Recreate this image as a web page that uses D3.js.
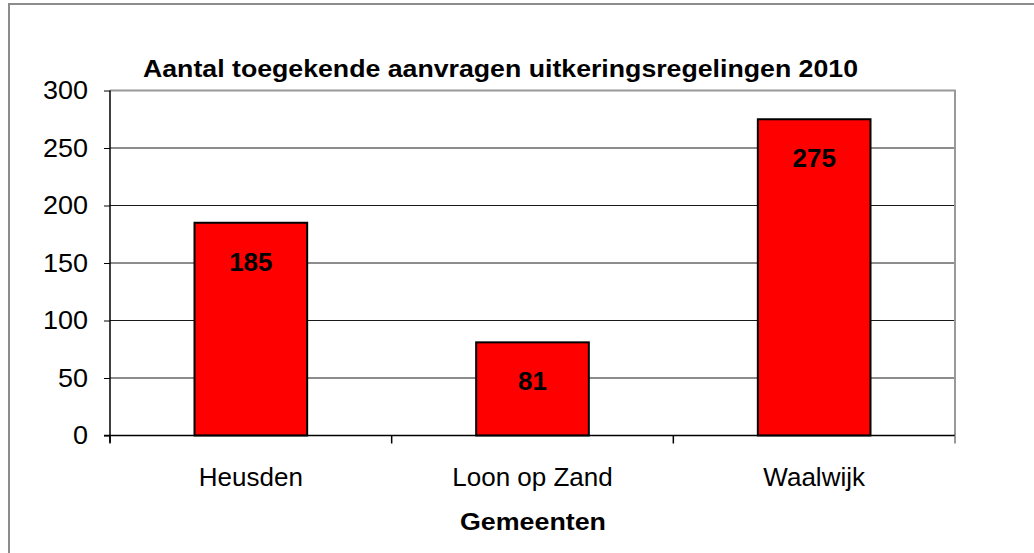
<!DOCTYPE html>
<html>
<head>
<meta charset="utf-8">
<script src="https://cdn.jsdelivr.net/npm/d3@7"></script>
<style>
  html, body { margin: 0; padding: 0; background: #fff; }
  svg { display: block; }
  text { font-family: Arial, "Liberation Sans", sans-serif; fill: #000; }
</style>
</head>
<body>
<svg id="chart" width="1034" height="553"></svg>
<script>
const categories = ["Heusden", "Loon op Zand", "Waalwijk"];
const values = [185, 81, 275];
const yTicks = [0, 50, 100, 150, 200, 250, 300];
const title = "Aantal toegekende aanvragen uitkeringsregelingen 2010";
const xTitle = "Gemeenten";

const svg = d3.select("#chart");
const W = 1034, H = 553;
const plot = { left: 110, right: 955, top: 90.5, bottom: 435.5 };

// outer border (extends past image on right/bottom)
svg.append("rect")
  .attr("x", 9).attr("y", 4)
  .attr("width", W + 20).attr("height", H + 20)
  .attr("fill", "#fff").attr("stroke", "#8c8c8c").attr("stroke-width", 2);

const x = d3.scaleBand().domain(categories).range([plot.left, plot.right]).paddingInner(0).paddingOuter(0);
const y = d3.scaleLinear().domain([0, 300]).range([plot.bottom, plot.top]);

// gridlines
svg.append("g").selectAll("line").data(yTicks.filter(d => d > 0 && d < 300)).join("line")
  .attr("x1", plot.left).attr("x2", plot.right)
  .attr("y1", d => y(d)).attr("y2", d => y(d))
  .attr("stroke", "#1a1a1a").attr("stroke-width", 1);

// plot border top & right (gray)
svg.append("path")
  .attr("d", `M${plot.left},${y(300)}H${plot.right}V${plot.bottom}`)
  .attr("fill", "none").attr("stroke", "#999").attr("stroke-width", 2);

// bars
const bw = x.bandwidth() * 0.4;
svg.append("g").selectAll("rect").data(values).join("rect")
  .attr("x", (d, i) => x(categories[i]) + (x.bandwidth() - bw) / 2)
  .attr("y", d => y(d))
  .attr("width", bw)
  .attr("height", d => y(0) - y(d))
  .attr("fill", "#ff0000").attr("stroke", "#000").attr("stroke-width", 2);

// value labels
svg.append("g").selectAll("text").data(values).join("text")
  .attr("x", (d, i) => x(categories[i]) + x.bandwidth() / 2)
  .attr("y", d => y(d) + 48)
  .attr("text-anchor", "middle")
  .style("font-size", "26px").style("font-weight", "bold")
  .text(d => d);

// y axis
const yAxis = d3.axisLeft(y).tickValues(yTicks).tickSize(6).tickPadding(16);
const gy = svg.append("g").attr("transform", `translate(${plot.left},0)`).call(yAxis);
gy.select(".domain").remove();
gy.selectAll(".tick line").attr("stroke", "#000");
gy.selectAll(".tick text")
  .style("font-size", "25px").style("font-family", "Arial, 'Liberation Sans', sans-serif").attr("fill", "#000")
  .attr("textLength", 45).attr("lengthAdjust", "spacingAndGlyphs")
  .each(function(d) { if (String(d).length !== 3) d3.select(this).attr("textLength", String(d).length * 15); });
svg.append("line").attr("x1", plot.left).attr("x2", plot.left)
  .attr("y1", plot.top).attr("y2", plot.bottom + 7).attr("stroke", "#000").attr("stroke-width", 1.5);

// x axis line
svg.append("line").attr("x1", plot.left - 6).attr("x2", plot.right)
  .attr("y1", plot.bottom).attr("y2", plot.bottom).attr("stroke", "#000").attr("stroke-width", 1.5);
// category boundary ticks
const bounds = categories.map(c => x(c)).concat([plot.right]);
svg.append("g").selectAll("line").data(bounds).join("line")
  .attr("x1", d => d).attr("x2", d => d)
  .attr("y1", plot.bottom).attr("y2", plot.bottom + 8)
  .attr("stroke", (d, i) => i === bounds.length - 1 ? "#777" : "#000").attr("stroke-width", 1.5);

// category labels
svg.append("g").selectAll("text").data(categories).join("text")
  .attr("x", d => x(d) + x.bandwidth() / 2)
  .attr("y", plot.bottom + 50)
  .attr("text-anchor", "middle")
  .style("font-size", "26px")
  .text(d => d);

// axis title
svg.append("text").attr("x", 533).attr("y", 530)
  .attr("text-anchor", "middle").style("font-size", "24px").style("font-weight", "bold")
  .attr("textLength", 146).attr("lengthAdjust", "spacingAndGlyphs")
  .text(xTitle);

// chart title
svg.append("text").attr("x", 500.5).attr("y", 77)
  .attr("text-anchor", "middle").style("font-size", "24px").style("font-weight", "bold")
  .attr("textLength", 715).attr("lengthAdjust", "spacingAndGlyphs")
  .text(title);
</script>
</body>
</html>
